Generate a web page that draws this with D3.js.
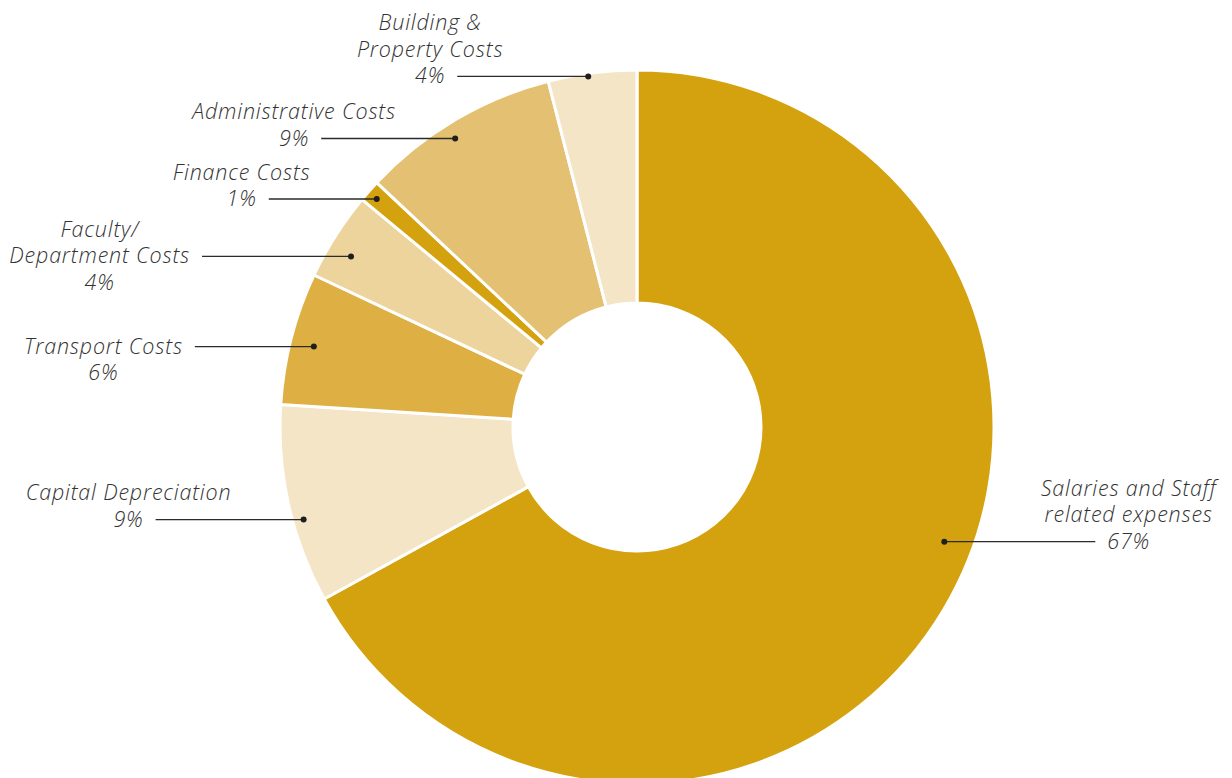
<!DOCTYPE html>
<html>
<head>
<meta charset="utf-8">
<script src="https://cdn.jsdelivr.net/npm/d3@7"></script>
<style>
  html, body { margin: 0; padding: 0; background: #fff; }
  svg { display: block; }
  text { font-family: "Open Sans", Lato, sans-serif; font-style: italic; font-weight: 300; font-size: 21.5px; letter-spacing: 0.8px; fill: #333; }
</style>
</head>
<body>
<svg id="chart" width="1232" height="778"></svg>
<script>
// ---- data ----
const categories = [
  "Salaries and Staff related expenses",
  "Capital Depreciation",
  "Transport Costs",
  "Faculty/ Department Costs",
  "Finance Costs",
  "Administrative Costs",
  "Building & Property Costs"
];
const labelLines = [
  ["Salaries and Staff", "related expenses"],
  ["Capital Depreciation"],
  ["Transport Costs"],
  ["Faculty/", "Department Costs"],
  ["Finance Costs"],
  ["Administrative Costs"],
  ["Building &", "Property Costs"]
];
const values = [67, 9, 6, 4, 1, 9, 4];
const pctLabels = ["67%", "9%", "6%", "4%", "1%", "9%", "4%"];
const colors = ["#D4A20F", "#F5E5C7", "#DEB043", "#EDD39C", "#D4A20F", "#E4C172", "#F5E5C7"];

// ---- leader layout ----
const leaderSide = ["right", "left", "left", "left", "left", "left", "left"];
const leaderTextLine = [2, 1, 0, 1, 1, 1, 2];          // which text line the leader points at
const leaderAnchorFrac = [0.458, 0.41, 0.48, 0.39, 0.45, 0.45, 0.45]; // position along slice angle
const leaderRadius = [328, 346, 333, 333, 346, 341, 354];
const leaderLength = [151, 148, 119, 149, 108, 134, 131];

const W = 1232, H = 778;
const cx = 637, cy = 427, outerR = 357, innerR = 124;
const lineH = 26.5, gap = 12;

const svg = d3.select("#chart");
const g = svg.append("g").attr("transform", `translate(${cx},${cy})`);

const pie = d3.pie().value(d => d).sort(null);
const arcs = pie(values);
const arc = d3.arc().innerRadius(innerR).outerRadius(outerR);

g.selectAll("path.slice").data(arcs).enter().append("path")
  .attr("class", "slice")
  .attr("d", arc)
  .attr("fill", (d, i) => colors[i])
  .attr("stroke", "#fff")
  .attr("stroke-width", 3)
  .attr("stroke-linejoin", "round");

const labelG = svg.append("g");
arcs.forEach((a, i) => {
  const ang = a.startAngle + (a.endAngle - a.startAngle) * leaderAnchorFrac[i];
  const r = leaderRadius[i];
  const dx = cx + r * Math.sin(ang);
  const dy = cy - r * Math.cos(ang);
  const lines = labelLines[i].concat([pctLabels[i]]);
  const li = leaderTextLine[i];

  const tmp = labelG.append("text").text(lines[li]);
  const w = tmp.node().getComputedTextLength();
  tmp.remove();

  let x1, x2, centerX;
  if (leaderSide[i] === "right") {
    x1 = dx; x2 = dx + leaderLength[i];
    centerX = x2 + gap + w / 2;
  } else {
    x1 = dx - leaderLength[i]; x2 = dx;
    centerX = x1 - gap - w / 2;
  }

  labelG.append("line")
    .attr("x1", x1).attr("x2", x2).attr("y1", dy).attr("y2", dy)
    .attr("stroke", "#2b2b2b").attr("stroke-width", 1.3);
  labelG.append("circle")
    .attr("cx", dx).attr("cy", dy).attr("r", 3)
    .attr("fill", "#1f1f1f");

  const t = labelG.append("text").attr("text-anchor", "middle");
  lines.forEach((s, k) => {
    t.append("tspan")
      .attr("x", centerX)
      .attr("y", dy + 7 + (k - li) * lineH)
      .text(s);
  });
});
</script>
</body>
</html>
